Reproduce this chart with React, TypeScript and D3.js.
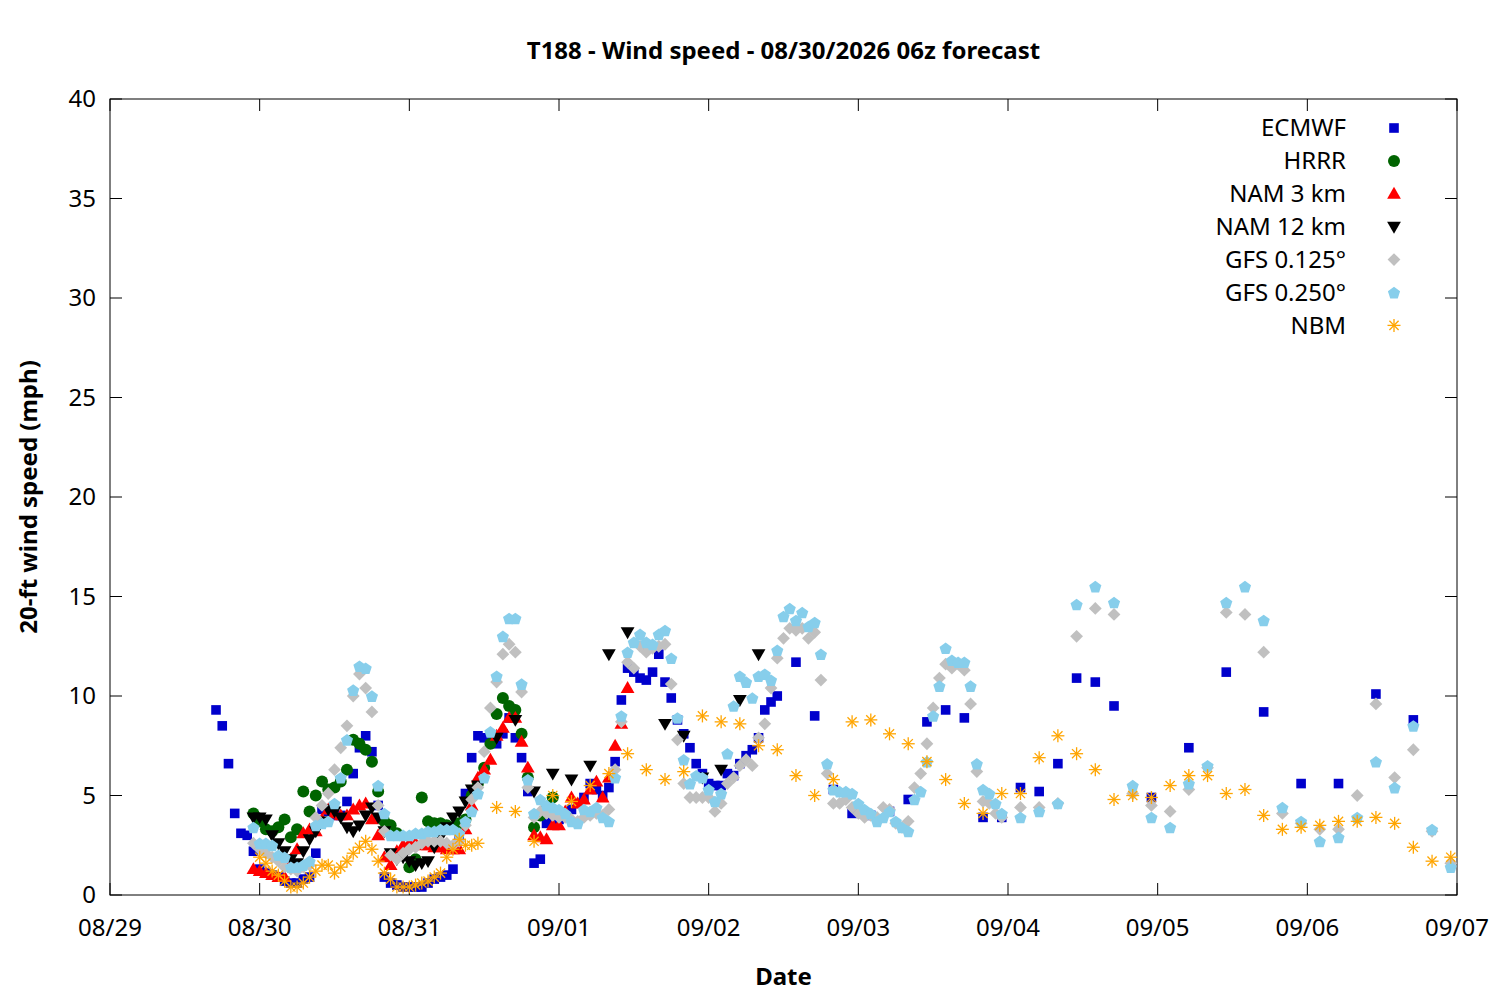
import * as d3 from 'd3';

// Hours are counted from 08/29 00:00 (the x axis origin)
const START = Date.UTC(2026, 7, 29);
const END = Date.UTC(2026, 8, 7);

const chartTitle = 'T188 - Wind speed - 08/30/2026 06z forecast';
const dayTicks = ['08/29', '08/30', '08/31', '09/01', '09/02', '09/03', '09/04', '09/05', '09/06', '09/07'];
const speedTicks = [0, 5, 10, 15, 20, 25, 30, 35, 40];

// ECMWF: hourly from hour 17, 3-hourly from 110, 6-hourly from 167
const ecmwfHourly = [
  9.3, 8.5, 6.6, 4.1, 3.1, 3.0, 2.2, 1.3, 1.1, 1.0,
  0.9, 0.7, 0.6, 0.6, 0.8, 0.9, 2.1, 4.3, 4.2, 4.0,
  4.0, 4.7, 6.1, 7.4, 8.0, 7.2, 4.5, 0.9, 0.6, 0.5,
  0.4, 0.4, 0.4, 0.4, 0.6, 0.8, 0.9, 1.0, 1.3, 3.0,
  5.1, 6.9, 8.0, 7.9, 7.8, 7.6, 8.1, 8.9, 7.9, 6.9,
  5.2, 1.6, 1.8, 3.6, 4.0, 3.8, 4.0, 4.3, 4.6, 4.9,
  5.6, 5.3, 5.0, 5.4, 6.7, 9.8, 11.4, 11.2, 10.9, 10.8,
  11.2, 12.1, 10.7, 9.9, 8.8, 8.1, 7.4, 6.6, 6.1, 5.6,
  5.5, 5.5, 6.1, 6.0, 6.6, 7.0, 7.3, 7.9, 9.3, 9.7,
  10.0,
];
const ecmwf3h = [11.7, 9.0, 5.3, 4.1, 4.0, 4.2, 4.8, 8.7, 9.3, 8.9, 3.9, 3.9, 5.4, 5.2, 6.6, 10.9, 10.7, 9.5];
const ecmwf6h = [4.9, 7.4, 11.2, 9.2, 5.6, 5.6, 10.1, 8.8];

// HRRR: hourly from hour 23
const hrrrHourly = [
  4.1, 3.7, 3.3, 3.2, 3.4, 3.8, 2.9, 3.3, 5.2, 4.2,
  5.0, 5.7, 5.3, 5.4, 5.7, 6.3, 7.8, 7.6, 7.3, 6.7,
  5.2, 3.7, 3.5, 3.1, 2.2, 1.4, 1.8, 4.9, 3.7, 3.6,
  3.6, 3.5, 3.4, 3.6, 3.8, 5.0, 5.6, 6.4, 7.6, 9.1,
  9.9, 9.5, 9.3, 8.1, 5.9, 3.4, 4.0, 4.4, 4.9,
];

// NAM 3 km: hourly from hour 23
const nam3Hourly = [
  1.3, 1.2, 1.1, 1.0, 0.9, 0.9, 1.8, 2.3, 3.1, 3.3,
  3.2, 3.8, 4.3, 4.1, 4.0, 4.0, 4.3, 4.5, 4.6, 3.8,
  3.0, 1.9, 1.5, 2.2, 2.5, 2.6, 2.6, 2.5, 2.5, 2.4,
  2.4, 2.3, 2.3, 2.3, 3.3, 4.5, 5.9, 6.3, 6.8, 8.0,
  8.4, 8.9, 8.9, 7.7, 6.4, 3.0, 2.9, 2.8, 3.5, 3.5,
  4.2, 4.9, 4.6, 4.8, 5.3, 5.7, 4.9, 5.9, 7.5, 8.6,
  10.4,
];

// NAM 12 km: hourly from hour 23, 3-hourly from 62
const nam12Hourly = [
  3.9, 3.9, 3.8, 3.0, 2.6, 2.2, 1.8, 1.6, 2.2, 2.8,
  3.2, 3.7, 4.3, 4.2, 3.9, 3.4, 3.2, 3.5, 4.0, 4.4,
  3.9, 3.2, 2.1, 1.8, 1.9, 1.7, 1.5, 1.6, 1.7, 2.4,
  2.9, 3.4, 3.9, 4.2, 4.7, 5.3, 5.5,
];
const nam12ThreeHourly = [7.9, 8.8, 5.2, 6.1, 5.8, 6.5, 12.1, 13.2, 12.4, 8.6, 8.0, 5.9, 6.3, 9.8, 12.1];

// GFS 0.125°: hourly from hour 23, 3-hourly from 146
const gfs0125Hourly = [
  2.6, 2.3, 2.1, 1.9, 1.7, 1.4, 1.3, 1.2, 1.4, 1.5,
  3.9, 4.5, 5.1, 6.3, 7.4, 8.5, 10.0, 11.1, 10.4, 9.2,
  4.5, 3.2, 2.0, 1.8, 2.1, 2.3, 2.4, 2.6, 2.7, 2.7,
  2.7, 2.6, 2.5, 2.7, 3.5, 4.8, 5.4, 7.2, 9.4, 10.7,
  12.1, 12.6, 12.2, 10.2, 5.4, 3.9, 4.2, 4.1, 4.0, 3.9,
  3.9, 3.8, 3.7, 3.9, 4.0, 4.1, 4.0, 4.3, 6.3, 8.7,
  11.7, 11.4, 12.5, 12.2, 12.4, 12.5, 12.6, 10.6, 7.8, 5.6,
  4.9, 4.9, 4.9, 4.9, 4.2, 4.6, 5.6, 5.9, 6.5, 6.8,
  6.5, 7.9, 8.6, 10.4, 11.9, 12.9, 13.4, 13.3, 13.4, 12.9,
  13.2, 10.8, 6.1, 4.6, 4.6, 4.8, 4.4, 4.1, 3.9, 4.0,
  3.9, 4.4, 4.3, 3.6, 3.4, 3.7, 5.4, 6.1, 7.6, 9.4,
  10.9, 11.6, 11.4, 11.6, 11.3, 9.6, 6.2, 4.7, 4.6, 4.1, 3.9,
];
const gfs0125ThreeHourly = [
  4.4, 4.4, 4.6, 13.0, 14.4, 14.1, 5.1, 4.5, 4.2, 5.3, 6.4, 14.2,
  14.1, 12.2, 4.1, 3.6, 3.3, 3.3, 5.0, 9.6, 5.9, 7.3, 3.2, 1.6,
];

// GFS 0.250°: hourly from hour 23, 3-hourly from 146
const gfs0250Hourly = [
  3.4, 2.6, 2.6, 2.5, 2.0, 1.9, 1.4, 1.4, 1.5, 1.7,
  3.5, 3.6, 3.7, 4.6, 5.9, 7.8, 10.3, 11.5, 11.4, 10.0,
  5.5, 4.1, 3.0, 3.0, 3.0, 3.0, 3.1, 3.1, 3.2, 3.2,
  3.3, 3.3, 3.3, 3.1, 3.7, 4.2, 5.1, 5.9, 8.2, 11.0,
  13.0, 13.9, 13.9, 10.6, 5.8, 4.1, 4.8, 4.5, 4.4, 4.3,
  4.1, 3.7, 3.6, 4.3, 4.2, 4.4, 3.9, 3.7, 5.9, 9.0,
  12.2, 12.7, 13.1, 12.7, 12.6, 13.1, 13.3, 11.9, 8.9, 6.8,
  5.6, 6.0, 5.9, 5.3, 4.7, 5.1, 7.1, 9.5, 11.0, 10.7,
  9.9, 11.0, 11.1, 10.8, 12.3, 14.0, 14.4, 13.8, 14.2, 13.5,
  13.7, 12.1, 6.6, 5.3, 5.2, 5.2, 5.1, 4.6, 4.3, 4.1,
  3.7, 3.9, 4.2, 3.7, 3.4, 3.2, 4.8, 5.2, 6.7, 9.0,
  10.5, 12.4, 11.8, 11.7, 11.7, 10.5, 6.6, 5.3, 5.1, 4.6, 4.1,
];
const gfs0250ThreeHourly = [
  3.9, 4.2, 4.6, 14.6, 15.5, 14.7, 5.5, 3.9, 3.4, 5.6, 6.5, 14.7,
  15.5, 13.8, 4.4, 3.7, 2.7, 2.9, 3.9, 6.7, 5.4, 8.5, 3.3, 1.4,
];

// NBM: hourly from hour 24, 3-hourly from 62
const nbmHourly = [
  1.9, 1.6, 1.2, 1.0, 0.7, 0.4, 0.4, 0.6, 0.9, 1.2,
  1.5, 1.5, 1.1, 1.4, 1.7, 2.1, 2.4, 2.7, 2.3, 1.7,
  1.1, 0.8, 0.4, 0.4, 0.4, 0.5, 0.6, 0.7, 0.9, 1.1,
  1.9, 2.3, 2.8, 2.5, 2.5, 2.6,
];
const nbmThreeHourly = [
  4.4, 4.2, 2.7, 5.0, 4.7, 5.5, 6.1, 7.1, 6.3, 5.8, 6.2,
  9.0, 8.7, 8.6, 7.5, 7.3, 6.0, 5.0, 5.8, 8.7, 8.8, 8.1,
  7.6, 6.7, 5.8, 4.6, 4.1, 5.1, 5.1, 6.9, 8.0, 7.1, 6.3,
  4.8, 5.0, 4.9, 5.5, 6.0, 6.0, 5.1, 5.3, 4.0, 3.3, 3.4,
  3.5, 3.7, 3.7, 3.9, 3.6, 2.4, 1.7, 1.9,
];

type Segment = { start: number; step: number; values: number[] };
type Shape = 'square' | 'circle' | 'up' | 'down' | 'diamond' | 'pentagon' | 'asterisk';
type Series = { name: string; color: string; shape: Shape; segments: Segment[] };

const series: Series[] = [
  {
    name: 'ECMWF', color: '#0000cc', shape: 'square',
    segments: [
      { start: 17, step: 1, values: ecmwfHourly },
      { start: 110, step: 3, values: ecmwf3h },
      { start: 167, step: 6, values: ecmwf6h },
    ],
  },
  { name: 'HRRR', color: '#006400', shape: 'circle', segments: [{ start: 23, step: 1, values: hrrrHourly }] },
  { name: 'NAM 3 km', color: '#ff0000', shape: 'up', segments: [{ start: 23, step: 1, values: nam3Hourly }] },
  {
    name: 'NAM 12 km', color: '#000000', shape: 'down',
    segments: [
      { start: 23, step: 1, values: nam12Hourly },
      { start: 62, step: 3, values: nam12ThreeHourly },
    ],
  },
  {
    name: 'GFS 0.125°', color: '#c0c0c0', shape: 'diamond',
    segments: [
      { start: 23, step: 1, values: gfs0125Hourly },
      { start: 146, step: 3, values: gfs0125ThreeHourly },
    ],
  },
  {
    name: 'GFS 0.250°', color: '#87ceeb', shape: 'pentagon',
    segments: [
      { start: 23, step: 1, values: gfs0250Hourly },
      { start: 146, step: 3, values: gfs0250ThreeHourly },
    ],
  },
  {
    name: 'NBM', color: '#ffa500', shape: 'asterisk',
    segments: [
      { start: 24, step: 1, values: nbmHourly },
      { start: 62, step: 3, values: nbmThreeHourly },
    ],
  },
];

const W = 1500;
const H = 1000;
const margin = { top: 99, right: 43, bottom: 105, left: 110 };
const FONT = '"Noto Sans", "Open Sans", sans-serif';
const FS = 24;

function toPoints(segs: Segment[]) {
  return segs.flatMap((s) =>
    s.values.map((v, i) => ({ t: new Date(START + (s.start + i * s.step) * 3600e3), v })),
  );
}

const pentagonPath = (() => {
  const r = 6.4;
  const pts = d3.range(5).map((k) => {
    const a = -Math.PI / 2 + (k * 2 * Math.PI) / 5;
    return [r * Math.cos(a), r * Math.sin(a) + 0.7];
  });
  return 'M' + pts.map((p) => p.join(',')).join('L') + 'Z';
})();

const trianglePath = d3.symbol(d3.symbolTriangle, 82)() as string;

function Marker({ shape, color, x, y }: { shape: Shape; color: string; x: number; y: number }) {
  const tr = `translate(${x},${y})`;
  switch (shape) {
    case 'square':
      return <rect x={x - 4.8} y={y - 4.8} width={9.6} height={9.6} fill={color} />;
    case 'circle':
      return <circle cx={x} cy={y} r={6} fill={color} />;
    case 'up':
      return <path d={trianglePath} transform={`${tr} translate(0,1)`} fill={color} />;
    case 'down':
      return <path d={trianglePath} transform={`${tr} rotate(180) translate(0,1)`} fill={color} />;
    case 'diamond':
      return <path d="M0,-6.4L6.4,0L0,6.4L-6.4,0Z" transform={tr} fill={color} />;
    case 'pentagon':
      return <path d={pentagonPath} transform={tr} fill={color} />;
    case 'asterisk':
      return (
        <g transform={tr} stroke={color} strokeWidth={1.3}>
          <line x1={-6.5} y1={0} x2={6.5} y2={0} />
          <line x1={0} y1={-6.5} x2={0} y2={6.5} />
          <line x1={-4.6} y1={-4.6} x2={4.6} y2={4.6} />
          <line x1={-4.6} y1={4.6} x2={4.6} y2={-4.6} />
        </g>
      );
  }
}

export default function App() {
  const x = d3.scaleUtc().domain([START, END]).range([margin.left, W - margin.right]);
  const y = d3.scaleLinear().domain([0, 40]).range([H - margin.bottom, margin.top]);
  const [x0, x1] = x.range();
  const [y0, y1] = y.range();
  const dayDates = x.ticks(d3.utcDay.every(1)!);
  const tick = 12;

  return (
    <svg
      width={W}
      height={H}
      style={{ position: 'absolute', left: 0, top: 0, background: '#fff' }}
      fontFamily={FONT}
    >
      <rect width={W} height={H} fill="#fff" />
      <text x={(x0 + x1) / 2} y={59} textAnchor="middle" fontSize={FS} fontWeight="bold">
        {chartTitle}
      </text>

      {/* y ticks, mirrored on the right */}
      {speedTicks.map((v) => (
        <g key={`y${v}`}>
          <line x1={x0} x2={x0 + tick} y1={y(v)} y2={y(v)} stroke="#000" />
          <line x1={x1} x2={x1 - tick} y1={y(v)} y2={y(v)} stroke="#000" />
          <text x={x0 - 14} y={y(v)} dy="0.35em" textAnchor="end" fontSize={FS}>
            {v}
          </text>
        </g>
      ))}

      {/* x ticks, mirrored on top */}
      {dayDates.map((d, i) => (
        <g key={`x${i}`}>
          <line x1={x(d)} x2={x(d)} y1={y0} y2={y0 - tick} stroke="#000" />
          <line x1={x(d)} x2={x(d)} y1={y1} y2={y1 + tick} stroke="#000" />
          <text x={x(d)} y={y0 + 33} dy="0.35em" textAnchor="middle" fontSize={FS}>
            {dayTicks[i]}
          </text>
        </g>
      ))}

      <rect x={x0} y={y1} width={x1 - x0} height={y0 - y1} fill="none" stroke="#000" strokeWidth={1} />

      <text x={(x0 + x1) / 2} y={985} textAnchor="middle" fontSize={FS} fontWeight="bold">
        Date
      </text>
      <text
        transform={`translate(37,${(y0 + y1) / 2}) rotate(-90)`}
        textAnchor="middle"
        fontSize={FS}
        fontWeight="bold"
      >
        20-ft wind speed (mph)
      </text>

      {series.map((s) => (
        <g key={s.name}>
          {toPoints(s.segments).map((p, i) => (
            <Marker key={i} shape={s.shape} color={s.color} x={x(p.t)} y={y(p.v)} />
          ))}
        </g>
      ))}

      {/* legend */}
      {series.map((s, i) => {
        const ly = 128 + i * 32.9;
        return (
          <g key={`lg${s.name}`}>
            <text x={1346} y={ly} dy="0.35em" textAnchor="end" fontSize={FS}>
              {s.name}
            </text>
            <Marker shape={s.shape} color={s.color} x={1394} y={ly} />
          </g>
        );
      })}
    </svg>
  );
}
